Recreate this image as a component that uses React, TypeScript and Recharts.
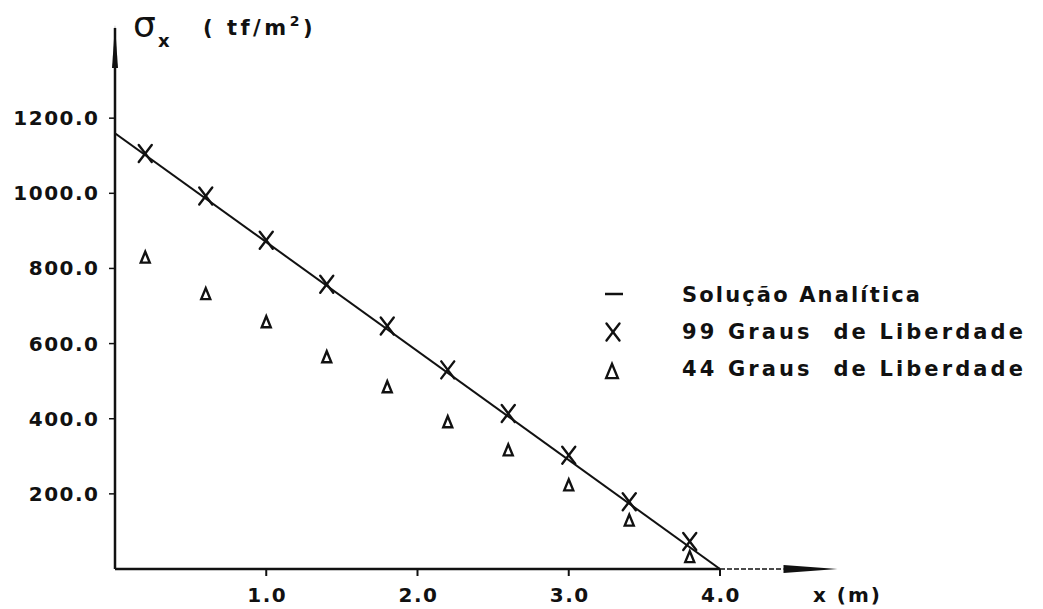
import React from "react";
import { ComposedChart, Line, Scatter, XAxis, YAxis, ReferenceLine, ReferenceDot } from "recharts";

// abscissas of the sampled points (m)
const positions = [0.2, 0.6, 1.0, 1.4, 1.8, 2.2, 2.6, 3.0, 3.4, 3.8];
// sigma x (tf/m2), 99 degrees of freedom
const sigma99 = [1106, 993, 875, 758, 647, 530, 414, 303, 179, 73];
// sigma x (tf/m2), 44 degrees of freedom
const sigma44 = [830, 733, 658, 565, 485, 392, 317, 224, 130, 33];
// analytic solution end points
const analyticX = [0, 4.0];
const analyticSigma = [1160, 0];

const xTicks = [1, 2, 3, 4];
const yTicks = [200, 400, 600, 800, 1000, 1200];
const legendLabels = ["Solução Analítica", "99 Graus  de Liberdade", "44 Graus  de Liberdade"];

const INK = "#111";
const FONT = "'DejaVu Sans', sans-serif";

const analyticData = analyticX.map((x, i) => ({ x, y: analyticSigma[i] }));
const data99 = positions.map((x, i) => ({ x, y: sigma99[i] }));
const data44 = positions.map((x, i) => ({ x, y: sigma44[i] }));

function Cross({ cx, cy }: any) {
  return (
    <g stroke={INK} strokeWidth={2.4} strokeLinecap="round">
      <line x1={cx - 6.5} y1={cy - 8.5} x2={cx + 6.5} y2={cy + 8.5} />
      <line x1={cx + 6.5} y1={cy - 8.5} x2={cx - 6.5} y2={cy + 8.5} />
    </g>
  );
}

function Tri({ cx, cy, s = 1 }: any) {
  const w = 4.5 * s;
  const h = 5.5 * s;
  return (
    <polygon
      points={`${cx},${cy - h} ${cx - w},${cy + h} ${cx + w},${cy + h}`}
      fill="none"
      stroke={INK}
      strokeWidth={2.4}
    />
  );
}

function XTick({ x, y, payload }: any) {
  return (
    <text x={x + 1} y={y + 26} textAnchor="middle" fontFamily={FONT} fontSize={20} fontWeight="bold" letterSpacing={1.5} fill={INK}>
      {Number(payload.value).toFixed(1)}
    </text>
  );
}

function YTick({ x, y, payload }: any) {
  return (
    <text x={x - 9.5} y={y + 7} textAnchor="end" fontFamily={FONT} fontSize={20} fontWeight="bold" letterSpacing={1.5} fill={INK}>
      {Number(payload.value).toFixed(1)}
    </text>
  );
}

function Overlay() {
  const rows = [294, 331, 368];
  return (
    <svg width={1043} height={609} style={{ position: "absolute", left: 0, top: 0, pointerEvents: "none" }}>
      {/* y axis title */}
      <text x={133} y={37} fontFamily={FONT} fontSize={36} fill={INK}>σ</text>
      <text x={158} y={47} fontFamily={FONT} fontSize={18} fontWeight="bold" fill={INK}>x</text>
      <text x={203} y={35} fontFamily={FONT} fontSize={21} fontWeight="bold" letterSpacing={3.5} fill={INK}>
        ( tf/m<tspan dy={-9} fontSize={14}>2</tspan>
        <tspan dy={9}>)</tspan>
      </text>
      {/* x axis title */}
      <text x={813} y={602} fontFamily={FONT} fontSize={20} fontWeight="bold" letterSpacing={2} fill={INK}>x (m)</text>
      {/* legend */}
      <line x1={605} y1={rows[0]} x2={623} y2={rows[0]} stroke={INK} strokeWidth={2.5} />
      <Cross cx={613} cy={rows[1] + 1} />
      <Tri cx={612} cy={rows[2] + 3} s={1.3} />
      {legendLabels.map((t, i) => (
        <text
          key={t}
          x={682}
          y={rows[i] + 8}
          fontFamily={FONT}
          fontSize={21}
          fontWeight="bold"
          fill={INK}
          textLength={i === 0 ? 238 : 341}
          xmlSpace="preserve"
        >
          {t}
        </text>
      ))}
    </svg>
  );
}

export default function App() {
  return (
    <div style={{ position: "absolute", left: 0, top: 0, width: 1043, height: 609, background: "#fff" }}>
      <ComposedChart width={1043} height={609} margin={{ top: 28, right: 202, left: 0, bottom: 0 }}>
        <XAxis
          type="number"
          dataKey="x"
          domain={[0, 4.8]}
          ticks={xTicks}
          allowDataOverflow
          axisLine={false}
          tickLine={{ stroke: INK, strokeWidth: 2 }}
          tickSize={7}
          tickMargin={0}
          tick={<XTick />}
          height={40}
        />
        <YAxis
          type="number"
          dataKey="y"
          domain={[0, 1440]}
          ticks={yTicks}
          allowDataOverflow
          axisLine={{ stroke: INK, strokeWidth: 2.5 }}
          tickLine={{ stroke: INK, strokeWidth: 1.5 }}
          tickSize={6}
          tickMargin={0}
          tick={<YTick />}
          width={115}
        />
        <ReferenceLine
          segment={[{ x: 0, y: 0 }, { x: 4.0, y: 0 }]}
          stroke={INK}
          strokeWidth={2.5}
          ifOverflow="visible"
        />
        <ReferenceLine
          segment={[{ x: 4.0, y: 0 }, { x: 4.42, y: 0 }]}
          stroke={INK}
          strokeWidth={1.5}
          strokeDasharray="5 2"
          ifOverflow="visible"
        />
        <ReferenceDot
          x={4.42}
          y={0}
          ifOverflow="visible"
          shape={({ cx, cy }: any) => (
            <polygon points={`${cx},${cy - 4} ${cx + 54},${cy} ${cx},${cy + 4}`} fill={INK} />
          )}
        />
        <ReferenceDot
          x={0}
          y={1440}
          ifOverflow="visible"
          shape={({ cx, cy }: any) => (
            <polygon points={`${cx},${cy - 3} ${cx - 3},${cy + 40} ${cx + 3},${cy + 40}`} fill={INK} />
          )}
        />
        <Line
          data={analyticData}
          dataKey="y"
          type="linear"
          stroke={INK}
          strokeWidth={2}
          dot={false}
          activeDot={false}
          isAnimationActive={false}
        />
        <Scatter data={data99} dataKey="y" shape={(p: any) => <Cross cx={p.cx} cy={p.cy} />} isAnimationActive={false} />
        <Scatter data={data44} dataKey="y" shape={(p: any) => <Tri cx={p.cx} cy={p.cy} />} isAnimationActive={false} />
      </ComposedChart>
      <Overlay />
    </div>
  );
}
